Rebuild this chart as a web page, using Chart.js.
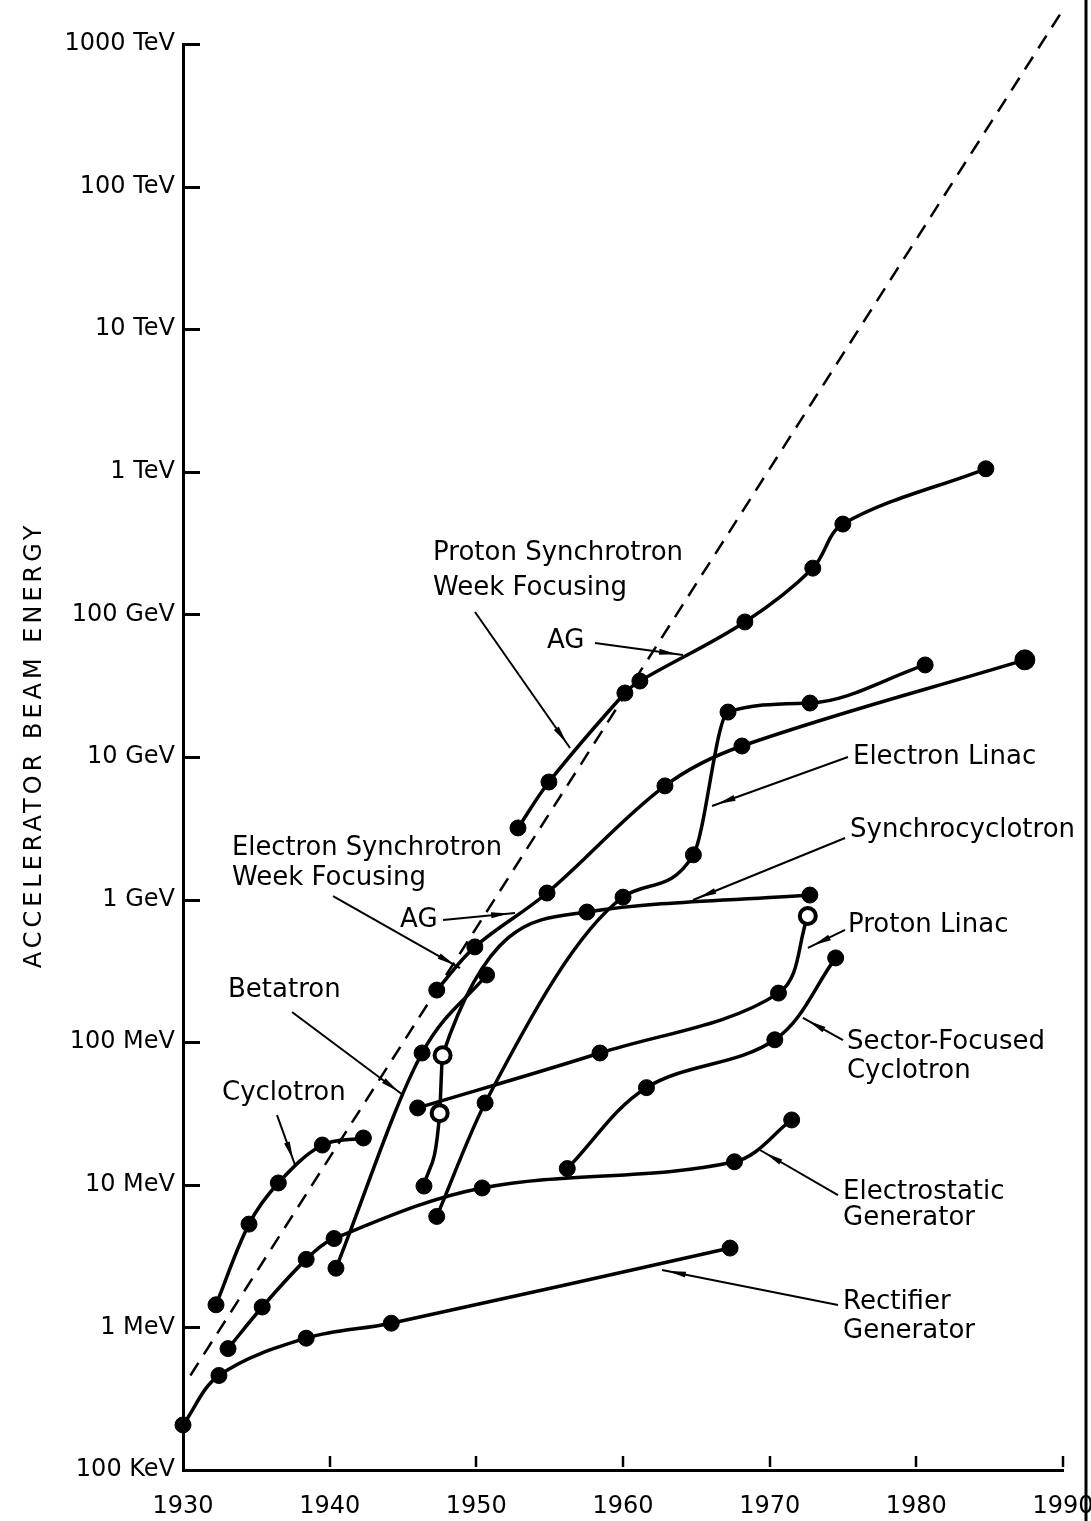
<!DOCTYPE html>
<html lang="en">
<head>
<meta charset="UTF-8">
<title>Accelerator beam energy (Livingston chart)</title>
<script src="https://cdn.jsdelivr.net/npm/chart.js@4.4.1/dist/chart.umd.min.js"></script>
<style>
	html, body { margin: 0; padding: 0; background: #fff; }
	canvas { display: block; }
</style>
</head>
<body>
<canvas id="livingston" width="1091" height="1521"></canvas>
<script>
// ticks (energies are in MeV)
var yearTicks = [1930, 1940, 1950, 1960, 1970, 1980, 1990];
var energyTicks = [0.1, 1, 10, 100, 1e3, 1e4, 1e5, 1e6, 1e7, 1e8, 1e9];
var energyLabels = ['100 KeV', '1 MeV', '10 MeV', '100 MeV', '1 GeV', '10 GeV', '100 GeV', '1 TeV', '10 TeV', '100 TeV', '1000 TeV'];

// series
var rectYears = [1930.0, 1932.45, 1938.4, 1944.2, 1967.3];
var rectMeV = [0.207, 0.46, 0.84, 1.07, 3.6];

var esgYears = [1933.07, 1935.4, 1938.4, 1940.3, 1950.4, 1967.6, 1971.5];
var esgMeV = [0.71, 1.39, 3.0, 4.2, 9.5, 14.5, 28.5];

var cycYears = [1932.25, 1934.5, 1936.5, 1939.5, 1942.3];
var cycMeV = [1.44, 5.3, 10.3, 19, 21.3];

var betaYears = [1940.43, 1946.3, 1950.7];
var betaMeV = [2.6, 84, 296];

var syncYears = [1946.43, 1947.5, 1947.7, 1957.54, 1972.74];
var syncMeV = [9.8, 31.8, 81, 818, 1076];
var syncOpen = [false, true, true, false, false];

var plinYears = [1946.0, 1958.43, 1970.6, 1972.6];
var plinMeV = [34.6, 84, 221, 767];
var plinOpen = [false, false, false, true];

var sfcYears = [1956.2, 1961.6, 1970.35, 1974.5];
var sfcMeV = [13, 48, 104, 390];

var elinYears = [1947.3, 1950.6, 1960.0, 1964.8, 1967.16, 1972.75, 1980.6];
var elinMeV = [6.0, 37.5, 1040, 2060, 20650, 23900, 44200];

var esynYears = [1947.3, 1949.9, 1954.82, 1962.86, 1968.11, 1987.4];
var esynMeV = [232, 466, 1112, 6270, 11940, 48000];

var psynYears = [1952.84, 1954.95, 1960.13, 1961.15, 1968.31, 1972.94, 1974.99, 1984.74];
var psynMeV = [3180, 6680, 28100, 34100, 88500, 211000, 430000, 1050000];

var trendYears = [1930.5, 1990];
var trendMeV = [0.46, 1.74e9];

// text labels: [text, year, log10(MeV) of middle line, max width]
var notes = [
	['Proton Synchrotron', 1947.05, 5.431, 255],
	['Week Focusing', 1947.05, 5.185, 195],
	['AG', 1954.82, 4.813, 40],
	['Electron Linac', 1975.68, 4.0, 205],
	['Synchrocyclotron', 1975.48, 3.488, 230],
	['Proton Linac', 1975.34, 2.822, 200],
	['Sector-Focused', 1975.27, 2.001, 223],
	['Cyclotron', 1975.27, 1.798, 143],
	['Electrostatic', 1975.0, 0.949, 187],
	['Generator', 1975.0, 0.767, 149],
	['Rectifier', 1975.0, 0.178, 135],
	['Generator', 1975.0, -0.025, 142],
	['Electron Synchrotron', 1933.34, 3.362, 270],
	['Week Focusing', 1933.34, 3.151, 200],
	['AG', 1944.8, 2.857, 38],
	['Betatron', 1933.07, 2.366, 122],
	['Cyclotron', 1932.66, 1.644, 138]
];
// leader lines: [year, log10 MeV] from label -> to curve
var leaders = [
	[1949.91, 5.017, 1956.39, 4.063],
	[1958.09, 4.799, 1964.09, 4.715],
	[1975.34, 4.0, 1966.07, 3.656],
	[1975.14, 3.432, 1964.77, 2.997],
	[1975.14, 2.787, 1972.61, 2.661],
	[1975.0, 2.015, 1972.27, 2.170],
	[1974.66, 0.928, 1969.34, 1.244],
	[1974.66, 0.157, 1962.66, 0.403],
	[1940.23, 3.025, 1948.89, 2.520],
	[1947.73, 2.857, 1952.64, 2.906],
	[1937.43, 2.212, 1945.0, 1.630],
	[1936.41, 1.489, 1937.64, 1.139]
];

function pts(years, mev) {
	return years.map(function (y, i) { return { x: y, y: mev[i] }; });
}

// smooth: true -> bezier with tension, false -> monotone cubic
function curve(label, years, mev, open, smooth) {
	var ds = {
		label: label,
		data: pts(years, mev),
		openPts: open || null,
		showLine: true,
		borderColor: '#000',
		borderWidth: 3.5,
		pointRadius: 8,
		pointBorderColor: '#000',
		pointBackgroundColor: function (ctx) {
			var o = ctx.dataset.openPts;
			return o && o[ctx.dataIndex] ? '#fff' : '#000';
		},
		pointBorderWidth: function (ctx) {
			var o = ctx.dataset.openPts;
			return o && o[ctx.dataIndex] ? 4 : 1;
		},
		clip: false
	};
	if (smooth) {
		ds.tension = 0.35;
	} else {
		ds.cubicInterpolationMode = 'monotone';
	}
	return ds;
}

var esyn = curve('Electron Synchrotron', esynYears, esynMeV, null, true);
esyn.pointRadius = function (ctx) { return ctx.dataIndex === esynYears.length - 1 ? 10 : 8; };

var datasets = [
	curve('Rectifier Generator', rectYears, rectMeV, null, true),
	curve('Electrostatic Generator', esgYears, esgMeV, null, true),
	curve('Cyclotron', cycYears, cycMeV, null, true),
	curve('Betatron', betaYears, betaMeV),
	curve('Synchrocyclotron', syncYears, syncMeV, syncOpen),
	curve('Proton Linac', plinYears, plinMeV, plinOpen, true),
	curve('Sector-Focused Cyclotron', sfcYears, sfcMeV, null, true),
	curve('Electron Linac', elinYears, elinMeV),
	esyn,
	curve('Proton Synchrotron', psynYears, psynMeV, null, true),
	{
		label: 'trend',
		data: pts(trendYears, trendMeV),
		showLine: true,
		borderColor: '#000',
		borderWidth: 2.5,
		borderDash: [15, 10],
		pointRadius: 0,
		clip: false
	}
];

// inward ticks, axis title, labels with leader lines, page border
var decorations = {
	id: 'decorations',
	afterDatasetsDraw: function (chart) {
		var ctx = chart.ctx;
		var xs = chart.scales.x, ys = chart.scales.y;
		var area = chart.chartArea;
		ctx.save();
		ctx.strokeStyle = '#000';
		ctx.fillStyle = '#000';

		ctx.lineWidth = 3;
		energyTicks.forEach(function (v) {
			var py = Math.round(ys.getPixelForValue(v)) + 0.5;
			ctx.beginPath();
			ctx.moveTo(area.left, py);
			ctx.lineTo(area.left + 17, py);
			ctx.stroke();
		});
		ctx.lineWidth = 2.5;
		yearTicks.slice(1).forEach(function (v) {
			var px = Math.round(xs.getPixelForValue(v));
			ctx.beginPath();
			ctx.moveTo(px, area.bottom - 3);
			ctx.lineTo(px, area.bottom - 14);
			ctx.stroke();
		});

		// axis title, letter spaced like the lettering of the original
		ctx.save();
		ctx.translate(35, (area.top + area.bottom) / 2 - 12);
		ctx.rotate(-Math.PI / 2);
		ctx.font = '24px "DejaVu Sans"';
		ctx.letterSpacing = '4px';
		ctx.textAlign = 'center';
		ctx.textBaseline = 'middle';
		ctx.fillText('ACCELERATOR BEAM ENERGY', 0, 0);
		ctx.restore();

		// leader lines with small arrowheads
		ctx.lineWidth = 2;
		leaders.forEach(function (l) {
			var x1 = xs.getPixelForValue(l[0]), y1 = ys.getPixelForValue(Math.pow(10, l[1]));
			var x2 = xs.getPixelForValue(l[2]), y2 = ys.getPixelForValue(Math.pow(10, l[3]));
			ctx.beginPath();
			ctx.moveTo(x1, y1);
			ctx.lineTo(x2, y2);
			ctx.stroke();
			var a = Math.atan2(y2 - y1, x2 - x1);
			var tx = x2 - Math.cos(a) * 6, ty = y2 - Math.sin(a) * 6;
			ctx.beginPath();
			ctx.moveTo(tx, ty);
			ctx.lineTo(tx - Math.cos(a) * 18 - Math.sin(a) * 3, ty - Math.sin(a) * 18 + Math.cos(a) * 3);
			ctx.lineTo(tx - Math.cos(a) * 18 + Math.sin(a) * 3, ty - Math.sin(a) * 18 - Math.cos(a) * 3);
			ctx.closePath();
			ctx.fill();
		});

		ctx.font = '26px "DejaVu Sans"';
		ctx.textBaseline = 'middle';
		ctx.textAlign = 'left';
		notes.forEach(function (n) {
			var px = xs.getPixelForValue(n[1]);
			var py = ys.getPixelForValue(Math.pow(10, n[2]));
			ctx.fillText(n[0], px, py, n[3]);
		});

		// right edge of the scanned sheet
		ctx.lineWidth = 3;
		ctx.beginPath();
		ctx.moveTo(1086, 0);
		ctx.lineTo(1086, chart.height);
		ctx.stroke();
		ctx.restore();
	}
};

Chart.defaults.font.family = '"DejaVu Sans", sans-serif';
Chart.defaults.color = '#000';

new Chart(document.getElementById('livingston'), {
	type: 'scatter',
	data: { datasets: datasets },
	plugins: [decorations],
	options: {
		responsive: false,
		animation: false,
		layout: { padding: { left: 0, right: 28, top: 44, bottom: 0 } },
		plugins: { legend: { display: false }, tooltip: { enabled: false } },
		scales: {
			x: {
				type: 'linear',
				min: 1930,
				max: 1990,
				afterBuildTicks: function (scale) {
					scale.ticks = yearTicks.map(function (v) { return { value: v }; });
				},
				afterFit: function (scale) {
					scale.height = 51;
					scale.paddingLeft = 0;
					scale.paddingRight = 0;
				},
				ticks: {
					autoSkip: false,
					maxRotation: 0,
					padding: 22,
					font: { size: 24 },
					callback: function (v) { return String(v); }
				},
				grid: { drawOnChartArea: false, drawTicks: false },
				border: { display: true, color: '#000', width: 3 }
			},
			y: {
				type: 'logarithmic',
				min: 0.1,
				max: 1e9,
				afterBuildTicks: function (scale) {
					scale.ticks = energyTicks.map(function (v) { return { value: v }; });
				},
				afterFit: function (scale) {
					scale.width = 183;
					scale.paddingTop = 0;
					scale.paddingBottom = 0;
				},
				ticks: {
					autoSkip: false,
					padding: 8,
					font: { size: 24 },
					callback: function (v, i) { return energyLabels[i]; }
				},
				grid: { drawOnChartArea: false, drawTicks: false },
				border: { display: true, color: '#000', width: 3 }
			}
		}
	}
});
</script>
</body>
</html>
